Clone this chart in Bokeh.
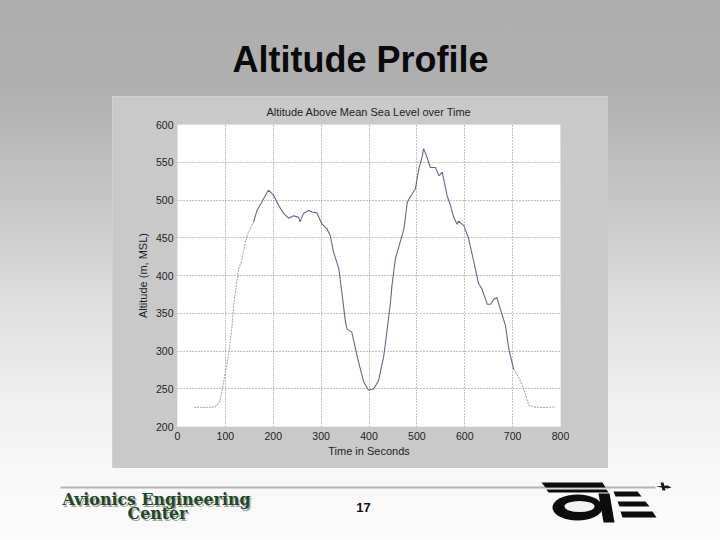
import numpy as np
from bokeh.plotting import figure
from bokeh.layouts import column, row
from bokeh.models import FixedTicker, Range1d, Spacer
from bokeh.core.properties import value
from bokeh.embed import file_html
from bokeh.resources import INLINE

# ---- data ----
time_s = [35, 46, 60, 79, 89, 93, 100, 107, 114, 118, 128, 134, 141, 148, 159,
          166, 176, 187, 190, 201, 211, 222, 232, 243, 253, 256, 263, 274, 281, 291,
          302, 312, 319, 326, 337, 344, 351, 354, 364, 375, 382, 389, 399, 410, 420,
          431, 438, 445, 448, 455, 465, 473, 480, 486, 497, 504, 511, 514, 521, 528,
          539, 546, 553, 563, 570, 577, 584, 587, 598, 608, 619, 629, 636, 647, 654,
          661, 667, 674, 685, 692, 702, 713, 723, 734, 744, 758, 790]
altitude_m = [225, 225.6, 225, 226, 234, 248, 272, 296, 334, 365, 409, 420, 442, 457, 471,
              486, 497, 510, 513, 506, 493, 482, 476, 479, 477, 471, 482, 486, 484, 483,
              468, 462, 453, 431, 409, 374, 338, 329, 325, 294, 276, 259, 248, 250, 261,
              294, 329, 365, 387, 422, 444, 462, 497, 504, 515, 541, 557, 568, 557, 543,
              543, 532, 537, 506, 493, 477, 468, 472, 466, 449, 418, 389, 382, 362, 362,
              369, 371, 356, 334, 303, 276, 265, 250, 228, 226, 225, 226]
x_ticks = [0, 100, 200, 300, 400, 500, 600, 700, 800]
y_ticks = [200, 250, 300, 350, 400, 450, 500, 550, 600]

slide_title = "Altitude Profile"
chart_title = "Altitude Above Mean Sea Level over Time"
x_label = "Time in Seconds"
y_label = "Altitude (m, MSL)"
page_number = "17"
footer_lines = ["Avionics Engineering", "Center"]

W, H = 720, 540
PANEL_L, PANEL_R, PANEL_T, PANEL_B = 112, 608, 96, 468

BG = ("linear-gradient(to bottom, #adadad 0px, #b0b0b0 90px, #c4c4c4 190px, "
      "#dcdcdc 290px, #eeeeee 390px, #f8f8f8 470px, #fbfbfb 540px)")


def deco_fig(x0, x1, y0, y1):
    f = figure(width=x1 - x0, height=y1 - y0, output_backend="svg", toolbar_location=None,
               x_range=Range1d(x0, x1), y_range=Range1d(y1, y0),
               x_axis_type=None, y_axis_type=None, min_border=0,
               min_border_left=0, min_border_right=0, min_border_top=0, min_border_bottom=0)
    f.outline_line_color = None
    f.border_fill_alpha = 0
    f.background_fill_alpha = 0
    return f


def txt(f, x, y, text, size, style="normal", color="#000000", font="Liberation Sans",
        baseline="middle", alpha=1.0):
    f.text(x=[x], y=[y], text=[text], text_align="center", text_baseline=baseline,
           text_font=value(font), text_font_size=size, text_font_style=style,
           text_color=color, text_alpha=alpha)


# ---- top strip with slide title ----
top = deco_fig(0, W, 0, PANEL_T)
txt(top, 360, 59, slide_title, "36px", "bold", "#0a0a0a", baseline="alphabetic")

# ---- main chart ----
p = figure(width=PANEL_R - PANEL_L, height=PANEL_B - PANEL_T, output_backend="svg",
           toolbar_location=None, x_range=Range1d(0, 800), y_range=Range1d(200, 600),
           min_border_left=65, min_border_right=48, min_border_top=28, min_border_bottom=42,
           title=chart_title,
           styles={"outline": "2px solid #d3d3d3", "outline-offset": "-2px"})
p.border_fill_color = "#c9c9c9"
p.background_fill_color = "white"
p.outline_line_color = None
p.title.align = "center"
p.title.text_font = "Liberation Sans"
p.title.text_font_size = "11px"
p.title.text_font_style = "normal"
p.title.text_color = "#1e1e1e"
p.title.standoff = 14

p.xaxis.ticker = FixedTicker(ticks=x_ticks)
p.yaxis.ticker = FixedTicker(ticks=y_ticks)
p.xaxis.axis_label = x_label
p.yaxis.axis_label = y_label
for ax in (p.xaxis[0], p.yaxis[0]):
    ax.axis_line_color = None
    ax.major_tick_line_color = None
    ax.minor_tick_line_color = None
    ax.major_tick_out = 0
    ax.major_tick_in = 0
    ax.minor_tick_out = 0
    ax.minor_tick_in = 0
    ax.major_label_text_font = "Liberation Sans"
    ax.major_label_text_font_size = "10.5px"
    ax.major_label_text_color = "#1e1e1e"
    ax.axis_label_text_font = "Liberation Sans"
    ax.axis_label_text_font_size = "11px"
    ax.axis_label_text_font_style = "normal"
    ax.axis_label_text_color = "#1e1e1e"
p.xaxis.major_label_standoff = 5
p.yaxis.major_label_standoff = 4
p.xaxis.axis_label_standoff = 2
p.yaxis.axis_label_standoff = 4

for g in (p.xgrid[0], p.ygrid[0]):
    g.grid_line_color = "#858585"
    g.grid_line_dash = "1 2"
    g.grid_line_width = 1

line_col = "#66668c"
faint_col = "#a8a8bc"
i1 = time_s.index(159)
i2 = time_s.index(702)
p.line(time_s[:i1 + 1], altitude_m[:i1 + 1], line_color=faint_col, line_width=1.1, line_dash="2 1")
p.line(time_s[i1:i2 + 1], altitude_m[i1:i2 + 1], line_color=line_col, line_width=1.1)
p.line(time_s[i2:], altitude_m[i2:], line_color=faint_col, line_width=1.1, line_dash="2 1")

# ---- footer ----
bot = deco_fig(0, W, PANEL_B, H)
bot.quad(left=60, right=655, top=486, bottom=488, fill_color="#b4b4b4", line_color=None)
for dx, dy, col, a in [(1.5, 2, "#3a3a3a", 0.45), (0, 0, "#1b4a24", 1.0)]:
    txt(bot, 156 + dx, 499 + dy, footer_lines[0], "15.8px", "bold", col,
        font="DejaVu Serif", baseline="alphabetic", alpha=a)
    txt(bot, 157 + dx, 513 + dy, footer_lines[1], "15.8px", "bold", col,
        font="DejaVu Serif", baseline="alphabetic", alpha=a)
txt(bot, 363, 507, page_number, "13px", "bold", "#111111")


# logo (decoration), page coords
def poly(pts, color):
    bot.patch([a for a, b in pts], [b for a, b in pts], fill_color=color, line_color=None)


poly([(541, 482), (602, 482), (605, 487), (545, 487)], "#0c0c0c")
poly([(546, 489), (606, 489), (608, 492), (548, 492)], "#0c0c0c")
bot.ellipse(x=[577], y=[507], width=50, height=26, fill_color="#0c0c0c", line_color=None)
bot.ellipse(x=[579], y=[506], width=30, height=11, fill_color="#f3f3f3", line_color=None)
poly([(598, 493), (609, 493), (614, 522), (603, 522)], "#0c0c0c")
poly([(613, 491), (637, 491), (641, 496), (615, 496)], "#0c0c0c")
poly([(617, 501), (645, 501), (649, 506), (619, 506)], "#0c0c0c")
poly([(620, 511), (652, 511), (656, 517), (622, 517)], "#0c0c0c")
poly([(655, 486), (667, 485), (671, 487), (667, 488)], "#1a1a1a")
poly([(660, 482), (663, 482), (665, 490), (662, 490)], "#1a1a1a")

mid = row(Spacer(width=PANEL_L, height=PANEL_B - PANEL_T), p,
          Spacer(width=W - PANEL_R, height=PANEL_B - PANEL_T), spacing=0)
layout = column(top, mid, bot, spacing=0, width=W, height=H,
                styles={"background": BG})
open("out.html", "w").write(file_html(layout, INLINE))
